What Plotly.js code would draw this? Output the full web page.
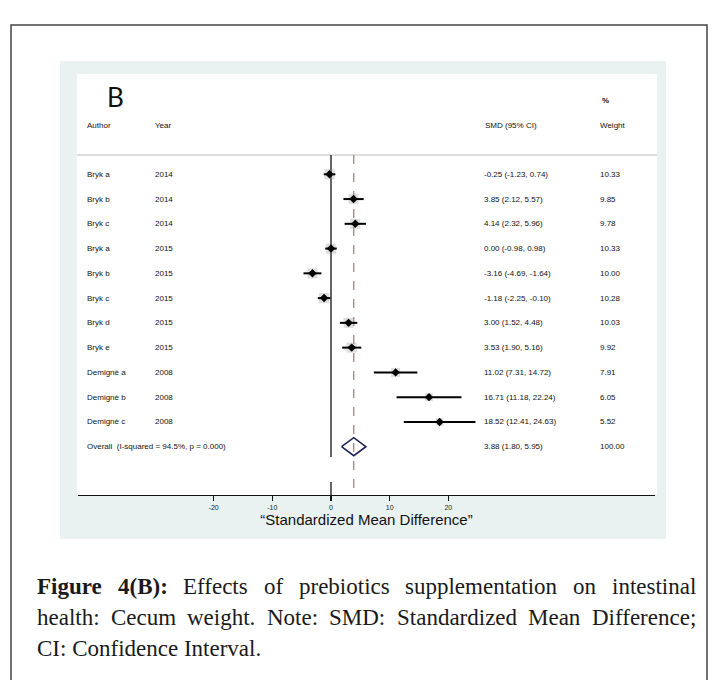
<!DOCTYPE html>
<html><head><meta charset="utf-8">
<script src="https://cdn.plot.ly/plotly-3.0.1.min.js"></script>
<style>html,body{margin:0;padding:0;background:#fff;} #chart{width:715px;height:680px;}</style>
</head><body><div id="chart"></div>
<script>
// ---------------- data ----------------
const authors = ["Bryk a","Bryk b","Bryk c","Bryk a","Bryk b","Bryk c","Bryk d","Bryk e","Demignè a","Demignè b","Demignè c"];
const years   = ["2014","2014","2014","2015","2015","2015","2015","2015","2008","2008","2008"];
const smd     = [-0.25, 3.85, 4.14, 0.00, -3.16, -1.18, 3.00, 3.53, 11.02, 16.71, 18.52];
const ciLow   = [-1.23, 2.12, 2.32, -0.98, -4.69, -2.25, 1.52, 1.90, 7.31, 11.18, 12.41];
const ciHigh  = [0.74, 5.57, 5.96, 0.98, -1.64, -0.10, 4.48, 5.16, 14.72, 22.24, 24.63];
const weights = [10.33, 9.85, 9.78, 10.33, 10.00, 10.28, 10.03, 9.92, 7.91, 6.05, 5.52];
const overallLabel = "Overall  (I-squared = 94.5%, p = 0.000)";
const overallSMD = 3.88, overallLow = 1.80, overallHigh = 5.95, overallWeight = 100.00;
const tickVals = [-20, -10, 0, 10, 20];
const panelLabel = "B";
const headerAuthor = "Author", headerYear = "Year", headerSMD = "SMD (95% CI)", headerPct = "%", headerWeight = "Weight";
const axisTitle = "\u201CStandardized Mean Difference\u201D";
const captionLine1 = [["Figure",true],["4(B):",true],["Effects",false],["of",false],["prebiotics",false],["supplementation",false],["on",false],["intestinal",false]];
const captionLine2 = ["health:","Cecum","weight.","Note:","SMD:","Standardized","Mean","Difference;"];
const captionLine3 = "CI: Confidence Interval.";

// ---------------- geometry ----------------
const W = 715, H = 680;
const px = x => x / W;
const py = y => 1 - y / H;
const zeroPx = 331, unitPx = 5.865;
const axL = 78, axR = 655, axBottom = 495, axTop = 74;
const rowTop = 174.3, rowStep = 24.76;
const N = authors.length + 1;            // rows incl. overall
const rowY = k => N - k;                 // y value of row k
const yOfPx = p => N - (p - rowTop) / rowStep;
const xMin = (axL - zeroPx) / unitPx, xMax = (axR - zeroPx) / unitPx;

const studyY = authors.map((_, i) => rowY(i));
const overallY = rowY(authors.length);
const fmt = v => v.toFixed(2);

// ---------------- traces ----------------
const squares = {
  type: 'scatter', mode: 'markers', x: smd, y: studyY, hoverinfo: 'skip',
  marker: { symbol: 'square', size: weights.map(w => 3.2 * Math.sqrt(w)), color: 'rgba(150,150,150,0.45)', line: { width: 0 } }
};
const points = {
  type: 'scatter', mode: 'markers', x: smd, y: studyY, hoverinfo: 'skip',
  marker: { symbol: 'diamond', size: 6.5, color: '#000' },
  error_x: { type: 'data', symmetric: false,
    array: smd.map((v, i) => ciHigh[i] - v), arrayminus: smd.map((v, i) => v - ciLow[i]),
    thickness: 2, width: 0, color: '#000' }
};
const h = 9 / rowStep;
const diamond = {
  type: 'scatter', mode: 'lines', hoverinfo: 'skip',
  x: [overallLow, overallSMD, overallHigh, overallSMD, overallLow],
  y: [overallY, overallY + h, overallY, overallY - h, overallY],
  line: { color: '#1c2456', width: 1.6 }
};

// ---------------- annotations ----------------
const sans = 'Liberation Sans, Arial, sans-serif';
const fs = 8, tc = '#111';
const ann = [];
function addText(text, x, y, yref, opts = {}) {
  ann.push(Object.assign({ text, x: px(x), xref: 'paper', y, yref, xanchor: 'left', yanchor: 'middle',
    showarrow: false, font: { family: sans, size: fs, color: tc } }, opts));
}
authors.forEach((a, i) => {
  addText(a, 85, studyY[i], 'y');
  addText(years[i], 153, studyY[i], 'y');
  addText(fmt(smd[i]) + " (" + fmt(ciLow[i]) + ", " + fmt(ciHigh[i]) + ")", 482, studyY[i], 'y');
  addText(fmt(weights[i]), 598, studyY[i], 'y');
});
addText(overallLabel, 85, overallY, 'y');
addText(fmt(overallSMD) + " (" + fmt(overallLow) + ", " + fmt(overallHigh) + ")", 482, overallY, 'y');
addText(fmt(overallWeight), 598, overallY, 'y');
addText(headerAuthor, 85, py(125), 'paper');
addText(headerYear, 153, py(125), 'paper');
addText(headerSMD, 483, py(125), 'paper');
addText(headerWeight, 598, py(125), 'paper');
addText('<b>' + headerPct + '</b>', 600, py(100), 'paper');
addText(panelLabel, 105, py(97), 'paper', { font: { family: 'Lato, Open Sans, sans-serif', size: 26, color: '#111' } });

// caption (justified)
const serif = 'Liberation Serif';
const capSize = 23;
const cv = document.createElement('canvas').getContext('2d');
function measure(t, bold) { cv.font = (bold ? 'bold ' : '') + capSize + "px '" + serif + "'"; return cv.measureText(t).width; }
function justify(words, x0, x1, yc) {
  const ws = words.map(([t, b]) => measure(t, b));
  const total = ws.reduce((a, b) => a + b, 0);
  const gap = (x1 - x0 - total) / (words.length - 1);
  let x = x0;
  words.forEach(([t, b], i) => {
    ann.push({ text: b ? '<b>' + t + '</b>' : t, x: px(x), xref: 'paper', y: py(yc), yref: 'paper',
      xanchor: 'left', yanchor: 'middle', showarrow: false, font: { family: serif, size: capSize, color: '#1a1a1a' } });
    x += ws[i] + gap;
  });
}
const capL = 35, capR = 694;
justify(captionLine1, capL, capR, 586);
justify(captionLine2.map(w => [w, false]), capL, capR, 617);
ann.push({ text: captionLine3, x: px(capL), xref: 'paper', y: py(648), yref: 'paper', xanchor: 'left', yanchor: 'middle',
  showarrow: false, font: { family: serif, size: capSize, color: '#1a1a1a' } });

// ---------------- shapes ----------------
const shapes = [
  { type: 'rect', xref: 'paper', yref: 'paper', x0: px(11), x1: px(707), y0: py(25), y1: -0.05, line: { color: '#444', width: 1.5 }, fillcolor: 'rgba(0,0,0,0)', layer: 'below' },
  { type: 'rect', xref: 'paper', yref: 'paper', x0: px(60), x1: px(666), y0: py(61), y1: py(539), line: { width: 0 }, fillcolor: '#e9f2f1', layer: 'below' },
  { type: 'rect', xref: 'paper', yref: 'paper', x0: px(77), x1: px(657), y0: py(74), y1: py(495), line: { width: 0 }, fillcolor: '#ffffff', layer: 'below' },
  { type: 'line', xref: 'paper', yref: 'paper', x0: px(77), x1: px(657), y0: py(155), y1: py(155), line: { color: '#d2d2d2', width: 1.5 }, layer: 'below' },
  { type: 'line', xref: 'x', yref: 'y', x0: 0, x1: 0, y0: yOfPx(155), y1: yOfPx(457), line: { color: '#111', width: 1.3 }, layer: 'below' },
  { type: 'line', xref: 'x', yref: 'y', x0: 0, x1: 0, y0: yOfPx(482), y1: yOfPx(495), line: { color: '#111', width: 1.3 }, layer: 'below' },
  { type: 'line', xref: 'x', yref: 'y', x0: overallSMD, x1: overallSMD, y0: yOfPx(155), y1: yOfPx(495), line: { color: '#9a7c7c', width: 1.2, dash: 'dash' }, layer: 'below' }
];

const layout = {
  width: W, height: H, margin: { l: 0, r: 0, t: 0, b: 0 },
  paper_bgcolor: '#ffffff', plot_bgcolor: 'rgba(0,0,0,0)', showlegend: false,
  xaxis: { domain: [px(axL), px(axR)], range: [xMin, xMax], showgrid: false, zeroline: false,
    showline: true, linecolor: '#111', linewidth: 1.3, ticks: 'outside', ticklen: 5, tickwidth: 1.2, tickcolor: '#111',
    tickmode: 'array', tickvals: tickVals, ticktext: tickVals.map(String),
    tickfont: { family: sans, size: 7, color: '#222' },
    title: { text: axisTitle, font: { family: sans, size: 15, color: '#111' }, standoff: 3 } },
  yaxis: { domain: [py(axBottom), py(axTop)], range: [yOfPx(axBottom), yOfPx(axTop)], visible: false, showgrid: false, zeroline: false },
  shapes, annotations: ann
};
Plotly.newPlot('chart', [squares, points, diamond], layout, { displayModeBar: false, staticPlot: true });
</script></body></html>
